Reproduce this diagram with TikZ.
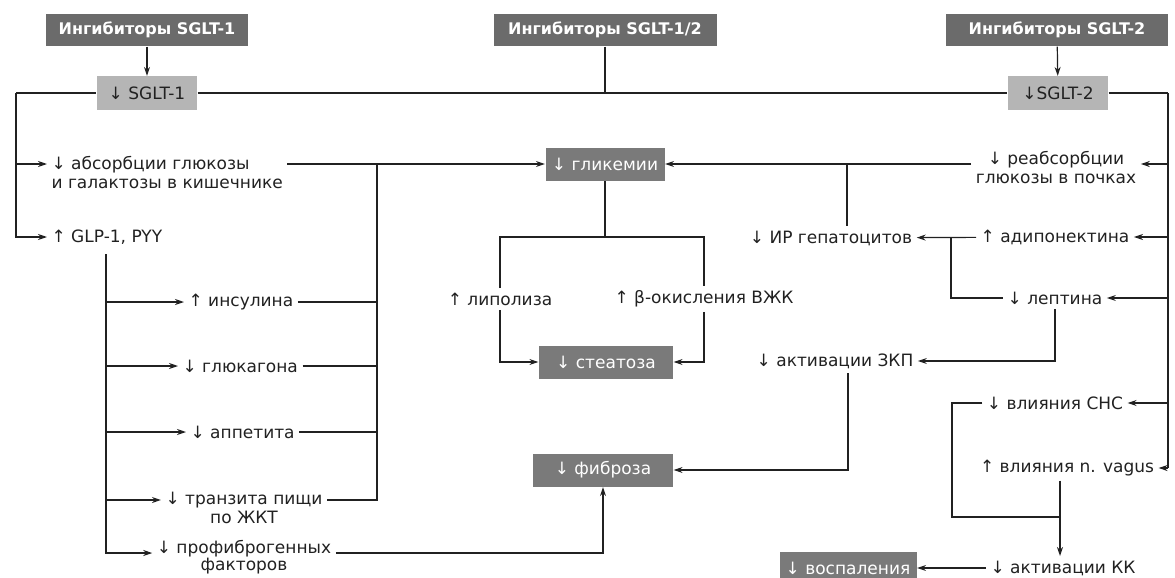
\documentclass[tikz,border=0pt]{standalone}
\usepackage{fontspec}
\setmainfont{DejaVu Sans}
\usepackage{xcolor}
\definecolor{darkbox}{rgb}{0.42,0.42,0.42}
\definecolor{midbox}{rgb}{0.48,0.48,0.48}
\definecolor{lightbox}{rgb}{0.71,0.71,0.71}
\definecolor{ink}{rgb}{0.13,0.13,0.13}
\usetikzlibrary{arrows.meta, positioning}

\begin{document}
\begin{tikzpicture}
[x=1pt, y=-1pt,
 >={Stealth[length=9pt,width=6pt]},
 line width=1.2pt,
 draw=ink,
 every node/.style={font=\fontsize{17}{19}\selectfont, text=ink, inner sep=4pt},
 inhib/.style={fill=darkbox, text=white, font=\fontsize{16}{18}\selectfont\bfseries,
   minimum height=32pt, inner xsep=6pt},
 target/.style={fill=lightbox, minimum height=33pt, minimum width=100pt},
 effect/.style={fill=midbox, text=white, minimum height=33pt},
]

\useasboundingbox (0,0) rectangle (1175,578);

% inhibitors and transporters
\node[inhib, minimum width=202pt] (inh1)  at (147,30)  {Ингибиторы SGLT-1};
\node[inhib, minimum width=223pt] (inh12) at (605,30)  {Ингибиторы SGLT-1/2};
\node[inhib, minimum width=222pt] (inh2)  at (1057,30) {Ингибиторы SGLT-2};
\node[target] (sglt1) at (147,93)  {↓ SGLT-1};
\node[target] (sglt2) at (1058,93) {↓SGLT-2};

% left branch
\node[align=left, anchor=west] (absorb) at (47,173) {↓ абсорбции глюкозы\\и галактозы в кишечнике};
\node[anchor=west] (glp)      at (47,237)  {↑ GLP-1, PYY};
\node[anchor=west] (insulin)  at (184,302) {↑ инсулина};
\node[anchor=west] (glucagon) at (178,366) {↓ глюкагона};
\node[anchor=west] (appetite) at (186,432) {↓ аппетита};
\node[align=center] (transit)  at (244,508) {↓ транзита пищи\\по ЖКТ};
\node[align=center, font=\fontsize{17}{17}\selectfont] (profibro) at (244,557) {↓ профиброгенных\\факторов};

% centre
\node[effect, minimum width=119pt] (glyc)  at (605,164) {↓ гликемии};
\node (lipol)  at (500,299) {↑ липолиза};
\node (betaox) at (704,299) {↑ β-окисления ВЖК};
\node[effect, minimum width=134pt] (steat) at (606,362) {↓ стеатоза};
\node[effect, minimum width=140pt] (fibr)  at (603,470) {↓ фиброза};

% right branch
\node[align=center] (reabs) at (1056,168) {↓ реабсорбции\\глюкозы в почках};
\node (adipo)  at (1055,237) {↑ адипонектина};
\node (ir)     at (831,238)  {↓ ИР гепатоцитов};
\node (leptin) at (1055,298) {↓ лептина};
\node (zkp)    at (835,361)  {↓ активации ЗКП};
\node (sns)    at (1055,403) {↓ влияния СНС};
\node (vagus)  at (1067,468) {↑ влияния n. vagus};
\node (kk)     at (1063,568) {↓ активации КК};
\node[effect, minimum width=137pt] (inflam) at (848,568) {↓ воспаления};

\coordinate (lbus)  at (16,93);
\coordinate (rbus)  at (1168,93);
\coordinate (ljoin) at (377,164);
\coordinate (gbus)  at (106,254);
\coordinate (gjoin) at (605,237);
\coordinate (rjoin) at (847,164);
\coordinate (ajoin) at (951,237);
\coordinate (sjoin) at (952,403);
\coordinate (kjoin) at (1060,517);

\draw[->] (inh1) -- (sglt1);
\draw[->] (inh2) -- (sglt2);
\draw (lbus) -- (sglt1) (sglt1) -- (sglt2) (sglt2) -- (rbus);
\draw (inh12) -- (inh12 |- sglt1);

\draw[->] (lbus) |- (absorb.west |- glyc);
\draw[->] (lbus) |- (glp);
\draw[->] (absorb.east |- glyc) -- (glyc);
\draw (ljoin) |- ([yshift=8pt]transit.east);
\draw (insulin) -- (insulin -| ljoin);
\draw (glucagon) -- (glucagon -| ljoin);
\draw (appetite) -- (appetite -| ljoin);
\draw[->] (gbus) |- (insulin);
\draw[->] (gbus) |- (glucagon);
\draw[->] (gbus) |- (appetite);
\draw[->] (gbus) |- ([yshift=8pt]transit.west);
\draw[->] (gbus) |- ([yshift=4pt]profibro.west);
\draw[->] ([yshift=4pt]profibro.east) -| (fibr);

\draw (glyc) -- (gjoin);
\draw (lipol) |- (gjoin) -| (betaox);
\draw[->] (lipol) |- (steat);
\draw[->] (betaox) |- (steat);

\draw (rbus) -- (rbus |- vagus);
\draw[->] (rbus |- glyc) -- (reabs.east |- glyc);
\draw[->] (reabs.west |- glyc) -- (glyc);
\draw (rjoin) -- (rjoin |- ir.north);
\draw[->] (rbus |- adipo) -- (adipo);
\draw[->] (adipo) -- (ir);
\draw (ajoin) |- (leptin);
\draw[->] (rbus |- leptin) -- (leptin);
\draw[->] (leptin) |- (zkp);
\draw[->] ([xshift=13pt]zkp.south) |- (fibr);
\draw[->] (rbus |- sns) -- (sns);
\draw[->] (rbus |- vagus) -- (vagus);
\draw (sns) -- (sjoin) |- (kjoin);
\draw[->] (kjoin |- vagus.south) -- (kjoin |- kk.north);
\draw[->] (kk) -- (inflam);
\end{tikzpicture}
\end{document}
